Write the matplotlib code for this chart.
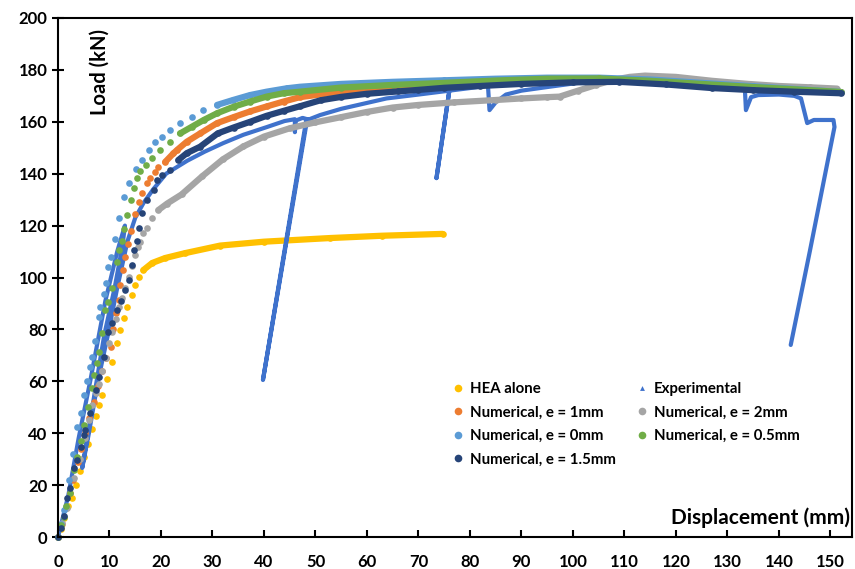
import numpy as np
import matplotlib
matplotlib.use('Agg')
import matplotlib.pyplot as plt
from matplotlib.lines import Line2D

# HEA alone
hea_x = [0, 0.5, 1.2, 2.0, 2.7, 3.4, 4.2, 5.0, 5.8, 6.6, 7.3, 8.0, 8.6, 9.5, 10.5, 11.5, 12.1,
         12.8, 13.4, 14.4, 15.0, 15.7, 16.6, 18.3, 20.8, 24.7, 31.5, 40, 52.8, 63, 74.7]
hea_y = [0, 3, 7.5, 12, 15, 20, 25.5, 31, 36, 41.5, 46.5, 51, 54.7, 61, 67.5, 74.8, 79.8,
         84.4, 88.7, 93.3, 97.1, 100.3, 102.9, 105.6, 107.5, 109.4, 112.3, 113.8, 115.2, 116.1, 116.8]

# Experimental
exp_x = [0, 2, 4, 6.3, 9.2, 11.5, 13, 12.5, 11, 9, 7.5, 6, 4.7, 6, 7.8, 9.7, 11.5, 13.5, 15,
         16.6, 18.5, 21, 25.1, 28.5, 32.1, 36, 40.6, 44, 46, 46, 46.2, 47.5, 48.4, 39.8, 48.2,
         50.9, 55, 63.8, 70, 76, 73.5, 76, 80, 83.5, 83.8, 85, 87, 90, 95.4, 101, 105, 110, 115,
         120, 125, 130, 133.4, 133.6, 134.6, 136, 140, 143, 144.3, 145.5, 146.8, 150.6, 150.8,
         146, 142.3]
exp_y = [0, 16, 38, 60.5, 91, 110, 120, 112, 96, 78, 60, 42, 26.6, 40, 60.5, 78, 96, 114, 123,
         128.7, 134, 140, 145, 148.5, 151.8, 155, 158, 160.3, 161, 156, 160.5, 161.5, 161, 60.5, 160.5,
         162.6, 165, 169, 170.5, 172, 138.3, 172, 173, 174, 164.5, 167.5, 170.5, 172, 173.5, 175, 175.5, 176, 176,
         175.3, 174.3, 173.3, 172.5, 164.5, 169.5, 170.3, 170.5, 170, 169, 159.5, 160.7, 160.7, 158,
         110, 74]

# Numerical, e = 1mm
e1_x = [0, 0.7, 1.5, 2.3, 3.0, 3.8, 4.5, 5.2, 6.0, 6.9, 7.7, 8.6, 9.4, 10.2, 10.6, 11.3, 11.8,
        12.1, 12.6, 13.1, 13.6, 14.2, 15.0, 15.7, 16.3, 17.3, 17.9, 18.9, 19.5, 20.8, 22.4, 23.1,
        25, 27.6, 30.9, 34.1, 37.3, 40.5, 43.8, 47, 55, 65, 75, 85, 95, 105, 115, 125, 135, 145, 152]
e1_y = [0, 5, 11, 17, 22, 29, 34, 40, 46, 52, 58, 64, 69, 73.3, 80, 86.2, 91.3,
        97, 103, 108, 113, 118, 124.5, 129, 132.4, 136.3, 138.2, 140.8, 142.7, 144.5, 147.8, 149.1,
        152.3, 155.5, 159.5, 161.8, 164, 165.9, 167.8, 169.5, 171.6, 173.4, 174.5, 175.5, 176.2, 176.4,
        175.8, 174.6, 173.3, 172.2, 171.4]

# Numerical, e = 2mm
e2_x = [0, 0.8, 1.8, 3.1, 4.2, 5.3, 6.0, 6.6, 7.3, 7.9, 8.6, 9.3, 10.0, 10.5, 11.2, 11.8, 12.4,
        13.0, 13.7, 14.4, 15.0, 15.5, 16.0, 16.6, 17.3, 18.3, 19.5, 21.2, 24, 28, 32, 36, 40, 45,
        50, 55, 60, 65, 70, 77, 85, 90, 95, 97.4, 101, 104.5, 108, 111, 114, 120, 127, 134, 140,
        146, 151.3]
e2_y = [0, 5.3, 11, 22.6, 30, 38, 45, 50.9, 55.4, 59, 64, 69, 74.6, 79.1, 84, 88.7, 92,
        96, 100.3, 104.5, 108.5, 111.9, 113.8, 117, 119, 122.8, 126, 128.5, 132, 139, 145.5, 150.5,
        154.3, 157.5, 159.8, 161.8, 163.8, 165.5, 166.5, 167.5, 168.4, 169, 169.5, 169.7, 172, 174.2,
        176.2, 177.3, 177.8, 177.3, 175.8, 174.6, 173.8, 173.3, 172.8]

# Numerical, e = 0mm
e0_x = [0, 0.6, 1.2, 2.1, 2.9, 3.7, 4.4, 5.0, 5.6, 6.2, 6.6, 7.1, 7.9, 8.2, 8.9, 9.4, 9.8, 10.3,
        11.0, 11.9, 12.8, 13.7, 15.2, 16.3, 17.6, 18.9, 20.2, 21.8, 23.7, 26, 28.2, 30.9, 34, 37.3,
        40.5, 44.4, 47, 55, 65, 75, 85, 95, 105, 115, 125, 135, 145, 152]
e0_y = [0, 5, 10.5, 22, 32, 42.5, 47.7, 54.7, 60, 65.6, 69.5, 75.6, 84.9, 88.7, 93.6, 98, 103.9,
        108, 115, 122.8, 131, 136.3, 142, 145.3, 149.1, 152.3, 154.3, 156.8, 159.4, 162, 164.5,
        166.5, 168.4, 170.3, 171.6, 172.9, 173.5, 174.6, 175.4, 176, 176.6, 177, 177, 176.3, 175,
        173.7, 172.4, 171.5]

# Numerical, e = 0.5mm
e05_x = [0, 0.5, 1.1, 1.6, 2.4, 3.1, 3.7, 4.4, 5.1, 5.8, 6.6, 6.9, 7.6, 7.9, 8.6, 9.2, 9.8,
         10.5, 11.5, 11.9, 12.4, 12.9, 13.4, 14.1, 14.7, 15.3, 16, 17, 18.3, 19.9, 21.8, 23.7, 26,
         28.3, 30.9, 34.1, 37.3, 40.5, 43.8, 47, 55, 65, 75, 85, 95, 105, 115, 125, 135, 145, 152]
e05_y = [0, 4.6, 7.8, 12, 16.8, 25.8, 30.9, 37, 43, 50, 57.3, 62.4, 66.9, 71.4, 78.5, 87.5, 90.7,
         95.8, 106, 110.6, 114, 118.5, 124, 130, 134.4, 138.5, 141, 143.5, 146, 149.1, 152.3, 155.5,
         158.1, 160.7, 163.3, 165.8, 167.8, 169.7, 171, 171.6, 173.2, 174.2, 175, 175.9, 176.6, 176.7,
         175.8, 174.6, 173.4, 172.3, 171.5]

# Numerical, e = 1.5mm
e15_x = [0, 0.6, 1.2, 1.8, 2.4, 3.1, 3.7, 4.4, 5.0, 5.3, 6.3, 7.3, 7.9, 8.9, 9.8, 10.5, 11.5,
         12.3, 13.1, 13.7, 14.3, 14.8, 15.3, 15.7, 16.3, 17.3, 18.6, 19.2, 20.2, 21.8, 23.4, 25,
         27.6, 31, 34.1, 37.3, 40.5, 43.8, 47, 51, 55, 60, 66, 70, 75, 82, 90, 100, 109, 118, 127,
         135, 143, 152]
e15_y = [0, 3.5, 8, 14.9, 18.8, 26.5, 29.7, 34.8, 39.3, 41.2, 47.7, 56.6, 61.8, 69.5, 79.1, 82.4,
         87.5, 91, 95.2, 99, 105, 110.6, 114, 119, 124.7, 129.9, 133.7, 137.6, 139.5, 141.4, 145.3,
         147.9, 150.4, 155.5, 157.8, 160, 162.3, 164.2, 166, 168.3, 169.6, 170.8, 171.7, 172.3, 173.1,
         173.8, 174.6, 175.2, 175.4, 174.4, 173, 172.2, 171.6, 171]

plt.rcParams['font.family'] = ['Lato', 'DejaVu Sans']
plt.rcParams['font.weight'] = 'bold'

fig = plt.figure(figsize=(8.55, 5.69), dpi=100)
ax = fig.add_axes([58 / 855, 32 / 569, 794 / 855, 519 / 569])

exp_color = '#3F72CC'

def numerical(x, y, color, dense_from):
    x = np.array(x)
    y = np.array(y)
    m = x >= dense_from
    ax.plot(x[m], y[m], '-', lw=4.5, color=color, solid_capstyle='round')
    ax.plot(x, y, 'o', ms=4.8, color=color, mec='none', clip_on=False)

# drawing order as in the original workbook
numerical(hea_x, hea_y, '#FFC000', 16.5)
ax.plot(exp_x, exp_y, '-', lw=3, color=exp_color, solid_capstyle='round', solid_joinstyle='round')
numerical(e1_x, e1_y, '#ED7D31', 20)
numerical(e2_x, e2_y, '#A5A5A5', 18.5)
numerical(e0_x, e0_y, '#5B9BD5', 29)
numerical(e05_x, e05_y, '#70AD47', 22)
numerical(e15_x, e15_y, '#264478', 23)

ax.set_xlim(0, 154.2)
ax.set_ylim(0, 200)
ax.set_xticks(np.arange(0, 151, 10))
ax.set_yticks(np.arange(0, 201, 20))
ax.tick_params(axis='y', direction='inout', length=9, width=1.5, labelsize=12, pad=3)
ax.tick_params(axis='x', direction='in', length=5, width=1.5, labelsize=12, pad=12)
for s in ax.spines.values():
    s.set_linewidth(1.5)

ax.text(0.053, 0.978, 'Load (kN)', transform=ax.transAxes, rotation=90,
        ha='center', va='top', fontsize=14.5, fontweight='bold')
ax.text(0.997, 0.037, 'Displacement (mm)', transform=ax.transAxes,
        ha='right', va='center', fontsize=15, fontweight='bold')

def dot(color, marker='o', ms=5.5):
    return Line2D([], [], ls='none', marker=marker, ms=ms, color=color, mec='none')

handles = [dot('#FFC000'), dot('#ED7D31'), dot('#5B9BD5'), dot('#264478'),
           dot(exp_color, '^', 3.5), dot('#A5A5A5'), dot('#70AD47')]
labels = ['HEA alone', 'Numerical, e = 1mm', 'Numerical, e = 0mm', 'Numerical, e = 1.5mm',
          'Experimental', 'Numerical, e = 2mm', 'Numerical, e = 0.5mm']
ax.legend(handles, labels, ncol=2, loc='upper left', bbox_to_anchor=(0.491, 0.31),
          frameon=False, fontsize=10.8, handlelength=0.6, handletextpad=0.45,
          columnspacing=1.5, labelspacing=0.63, borderaxespad=0)

fig.savefig('out.png', dpi=100, facecolor='white')
